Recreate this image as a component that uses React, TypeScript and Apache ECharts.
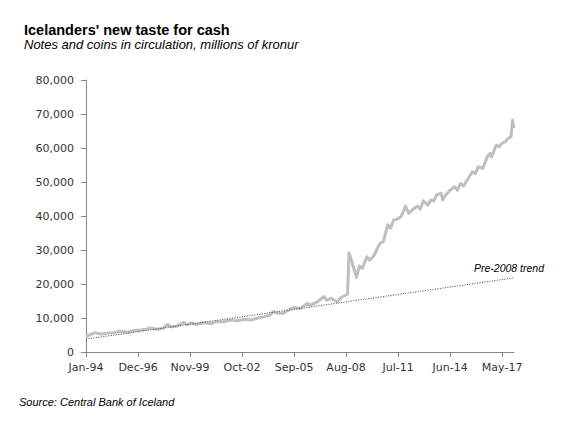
import React, { useEffect, useRef } from "react";
import * as echarts from "echarts";

// Month offsets from Jan-94 of the points
const MONTH_NAMES = ["Jan", "Feb", "Mar", "Apr", "May", "Jun", "Jul", "Aug", "Sep", "Oct", "Nov", "Dec"];
const TOTAL_MONTHS = 289; // Jan-94 .. Jan-18

const obsIndex = [
  0, 6, 10, 14, 19, 23, 28, 32, 37, 41, 43, 48, 52, 55, 57, 61, 66, 68, 71, 74, 77, 79, 84, 88, 93, 97,
  102, 106, 111, 115, 120, 124, 126, 129, 133, 138, 140, 144, 149, 151, 156, 160, 162, 165, 169, 172,
  176, 177, 182, 184, 186, 189, 191, 194, 196, 198, 200, 203, 205, 207, 209, 212, 215, 217, 221, 223,
  225, 227, 230, 232, 234, 236, 239, 240, 242, 245, 248, 250, 252, 254, 258, 260, 262, 264, 267, 270,
  272, 273, 276, 278, 280, 282, 284, 286, 287, 288,
];

// Notes and coins in circulation, millions of kronur
const cash = [
  4500, 5700, 5300, 5500, 5700, 6100, 5800, 6300, 6500, 6700, 7100, 6700, 7000, 8100, 7400, 7600, 8700, 8000, 8600, 8100, 8400, 8600, 8400, 8900, 8900, 9400,
  9200, 9600, 9400, 9900, 10400, 10900, 11900, 11400, 11400, 12800, 13100, 12800, 14300, 13800, 14800, 16300, 15300, 15800, 14800, 16100,
  17000, 29200, 22000, 25300, 24600, 28000, 27000, 28500, 30500, 32000, 32400, 37400, 36400, 38800, 39000, 39800, 42900, 40800, 42300, 42900,
  42000, 44500, 43200, 44700, 44500, 46200, 46700, 44700, 46200, 47600, 48600, 47600, 49600, 48800, 51600, 53000, 52500, 54500, 54000, 57400,
  58400, 57400, 60900, 60400, 61400, 61800, 62800, 63300, 68200, 65800,
];

// Pre-2008 trend line end points
const trendIndex = [0, 288];
const trendValues = [3800, 21800];

const yTicks = [0, 10000, 20000, 30000, 40000, 50000, 60000, 70000, 80000];

const monthLabel = (i: number) =>
  `${MONTH_NAMES[i % 12]}-${String((1994 + Math.floor(i / 12)) % 100).padStart(2, "0")}`;

const categories = Array.from({ length: TOTAL_MONTHS }, (_, i) => monthLabel(i));

export default function App() {
  const ref = useRef<HTMLDivElement>(null);
  useEffect(() => {
    if (!ref.current) return;
    const chart = echarts.init(ref.current, undefined, { renderer: "svg" });
    const axisColor = "#868686";
    const labelStyle = { fontFamily: "DejaVu Sans", fontSize: 11, color: "#333333" };
    chart.setOption({
      animation: false,
      backgroundColor: "#ffffff",
      title: {
        left: 19,
        top: 17,
        text: "Icelanders' new taste for cash",
        subtext: "Notes and coins in circulation, millions of kronur",
        itemGap: 1,
        textStyle: { fontFamily: "Liberation Sans", fontSize: 14.5, fontWeight: "bold", color: "#000000" },
        subtextStyle: { fontFamily: "Liberation Sans", fontSize: 13, fontStyle: "italic", color: "#000000" },
      },
      grid: { left: 86, right: 64, top: 80, bottom: 72, containLabel: false },
      xAxis: {
        type: "category",
        data: categories,
        boundaryGap: false,
        axisLine: { show: true, lineStyle: { color: axisColor, width: 1 } },
        axisTick: { show: true, interval: 34, length: 5, lineStyle: { color: axisColor } },
        axisLabel: { ...labelStyle, interval: 34, margin: 10 },
        splitLine: { show: false },
      },
      yAxis: {
        type: "value",
        min: yTicks[0],
        max: yTicks[yTicks.length - 1],
        interval: yTicks[1] - yTicks[0],
        axisLine: { show: true, lineStyle: { color: axisColor, width: 1 } },
        axisTick: { show: true, length: 5, lineStyle: { color: axisColor } },
        axisLabel: {
          ...labelStyle,
          margin: 12,
          formatter: (v: number) => v.toLocaleString("en-US"),
        },
        splitLine: { show: false },
      },
      series: [
        {
          type: "line",
          name: "Cash",
          data: obsIndex.map((m, i) => [categories[m], cash[i]]),
          showSymbol: false,
          symbol: "none",
          lineStyle: { color: "#BFBFBF", width: 3, join: "round" },
          z: 2,
        },
        {
          type: "line",
          name: "Pre-2008 trend",
          data: trendIndex.map((m, i) => [categories[m], trendValues[i]]),
          showSymbol: false,
          symbol: "none",
          lineStyle: { color: "#404040", width: 1, type: [1, 1.5] },
          z: 3,
        },
      ],
      graphic: [
        {
          type: "text",
          left: 474,
          top: 262,
          style: {
            text: "Pre-2008 trend",
            fontFamily: "Liberation Sans",
            fontStyle: "italic",
            fontSize: 10.5,
            fill: "#000000",
          },
        },
        {
          type: "text",
          left: 19,
          top: 396,
          style: {
            text: "Source: Central Bank of Iceland",
            fontFamily: "Liberation Sans",
            fontStyle: "italic",
            fontSize: 11,
            fill: "#000000",
          },
        },
      ],
    });
    return () => chart.dispose();
  }, []);
  return (
    <div
      ref={ref}
      style={{ position: "fixed", left: 0, top: 0, width: 578, height: 424, background: "#fff" }}
    />
  );
}
